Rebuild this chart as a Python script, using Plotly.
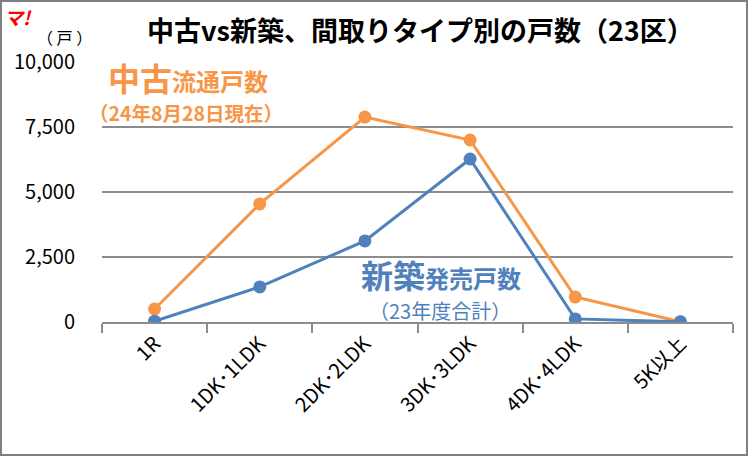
import plotly.graph_objects as go

categories = ["1R", "1DK･1LDK", "2DK･2LDK", "3DK･3LDK", "4DK･4LDK", "5K以上"]
chuko = [500, 4540, 7880, 7000, 960, 10]
shinchiku = [30, 1350, 3120, 6270, 120, 5]
ytick_vals = [0, 2500, 5000, 7500, 10000]
ytick_text = ["0", "2,500", "5,000", "7,500", "10,000"]

ORANGE = "#F79646"
BLUE = "#4F81BD"
GRID = "#8C8C8C"
FONT = "Noto Sans CJK JP"

W, H = 748, 456
ML, MR, MT, MB = 102, 15, 62, 134
pw, ph = W - ML - MR, H - MT - MB

fig = go.Figure()
fig.add_trace(go.Scatter(x=categories, y=chuko, mode="lines+markers",
                         line=dict(color=ORANGE, width=3),
                         marker=dict(color=ORANGE, size=13), name="中古"))
fig.add_trace(go.Scatter(x=categories, y=shinchiku, mode="lines+markers",
                         line=dict(color=BLUE, width=3),
                         marker=dict(color=BLUE, size=13), name="新築"))

def px(xp):
    return (xp - ML) / pw
def py(yp):
    return (H - MB - yp) / ph

annotations = [
    dict(text="<b>中古vs新築、間取りタイプ別の戸数（23区）</b>", x=px(420), y=py(29),
         font=dict(size=27, color="black", family=FONT)),
    dict(text="<i><b>マ!</b></i>", x=px(18), y=py(17), font=dict(size=19, color="#FF0000", family=FONT)),
    dict(text="（ 戸 ）", x=px(64), y=py(37), font=dict(size=16, color="black", family=FONT)),
    dict(text="<b>中古</b><span style='font-size:24px'><b>流通戸数</b></span>", x=px(188), y=py(77),
         font=dict(size=32, color=ORANGE, family=FONT)),
    dict(text="<b>（24年8月28日現在）</b>", x=px(186), y=py(112),
         font=dict(size=19.5, color=ORANGE, family=FONT)),
    dict(text="<b>新築</b><span style='font-size:24px'><b>発売戸数</b></span>", x=px(441), y=py(274),
         font=dict(size=32, color=BLUE, family=FONT)),
    dict(text="（23年度合計）", x=px(440), y=py(310),
         font=dict(size=20, color=BLUE, family=FONT)),
]
for a in annotations:
    a.update(xref="paper", yref="paper", showarrow=False, xanchor="center", yanchor="middle")

fig.update_layout(
    width=W, height=H,
    margin=dict(l=ML, r=MR, t=MT, b=MB),
    paper_bgcolor="white", plot_bgcolor="white",
    showlegend=False,
    annotations=annotations,
    font=dict(family=FONT, color="black"),
    shapes=[dict(type="rect", xref="paper", yref="paper",
                 x0=px(1), x1=px(W - 1), y0=py(H - 1), y1=py(1),
                 line=dict(color="#7F7F7F", width=2))],
)
fig.update_xaxes(
    type="category", range=[-0.5, 5.5],
    showline=True, linecolor=GRID, linewidth=2,
    ticks="outside", tickson="boundaries", ticklen=9, tickcolor=GRID, tickwidth=2,
    tickangle=-45, tickfont=dict(size=20, color="black", family=FONT),
    showgrid=False,
)
fig.update_yaxes(
    range=[0, 10000], tickvals=ytick_vals, ticktext=ytick_text,
    showgrid=True, gridcolor=GRID, gridwidth=2, zeroline=False,
    showline=False, ticks="", tickfont=dict(size=20, color="black", family=FONT),
    ticklabelstandoff=26,
)

fig.write_html("out.html", config={"displayModeBar": False},
               post_script="document.body.style.margin='0';")
